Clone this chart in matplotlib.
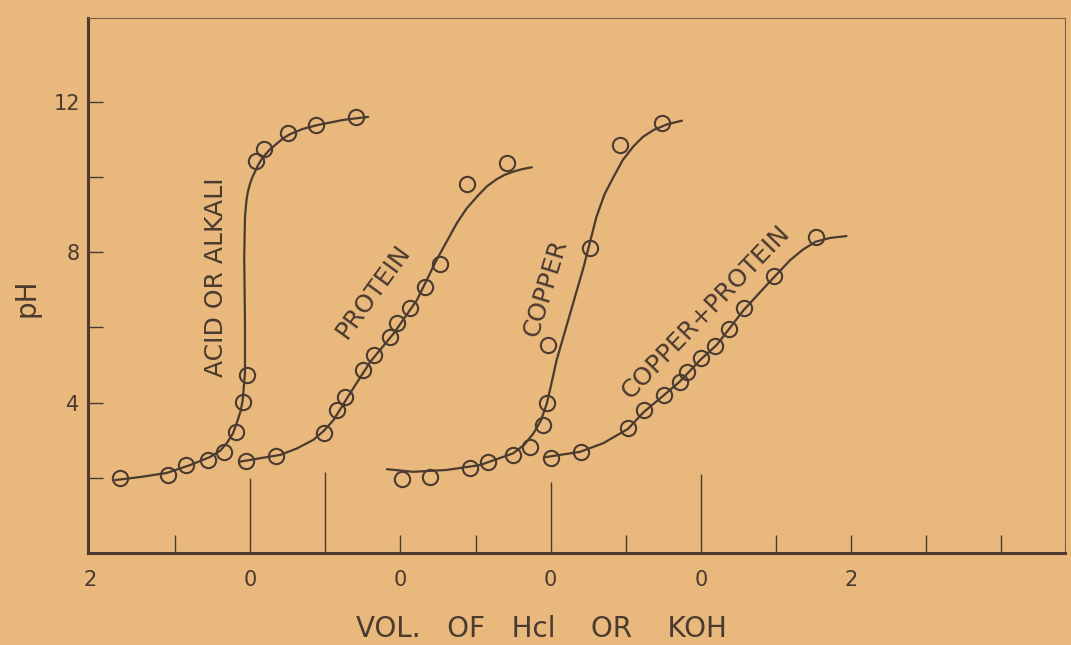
import matplotlib
matplotlib.use("Agg")
import matplotlib.pyplot as plt

# colours of the scanned sheet
paper = "#E8B87C"
ink = "#4A3A2F"

# x runs along one strip; each curve has its own zero mark
# acid / alkali (blank titration)
acid_x = [0.27, 0.90, 1.15, 1.44, 1.65, 1.81, 1.91, 1.96, 2.08, 2.18, 2.50, 2.88, 3.41]
acid_y = [1.99, 2.07, 2.34, 2.47, 2.69, 3.21, 4.01, 4.73, 10.43, 10.74, 11.18, 11.38, 11.60]
acid_fit_x = [0.20, 0.53, 0.89, 1.20, 1.46, 1.60, 1.69, 1.77, 1.82, 1.87, 1.90, 1.93, 1.93,
              1.92, 1.93, 1.95, 1.97, 2.00, 2.03, 2.11, 2.17, 2.26, 2.36, 2.44, 2.53,
              2.70, 2.89, 3.24, 3.57]
acid_fit_y = [1.94, 2.02, 2.13, 2.34, 2.55, 2.72, 2.93, 3.18, 3.46, 3.76, 4.07, 4.79, 6.12,
              7.87, 8.94, 9.39, 9.62, 9.84, 10.00, 10.34, 10.53, 10.73, 10.90, 11.03, 11.14,
              11.28, 11.38, 11.52, 11.60]

# protein
prot_x = [1.95, 2.34, 2.98, 3.16, 3.26, 3.50, 3.65, 3.86, 3.96, 4.13, 4.33, 4.53, 4.89, 5.42]
prot_y = [2.45, 2.58, 3.18, 3.80, 4.16, 4.87, 5.27, 5.75, 6.12, 6.51, 7.08, 7.69, 9.81, 10.38]
prot_fit_x = [1.86, 2.40, 2.62, 2.84, 2.98, 3.11, 3.33, 3.60, 3.91, 4.22, 4.48, 4.75, 4.88,
              5.02, 5.15, 5.28, 5.39, 5.50, 5.62, 5.75]
prot_fit_y = [2.43, 2.61, 2.78, 3.01, 3.25, 3.54, 4.25, 5.09, 5.84, 6.73, 7.79, 8.77, 9.16,
              9.48, 9.75, 9.94, 10.06, 10.14, 10.21, 10.26]

# copper
cu_x = [4.02, 4.39, 4.92, 5.16, 5.50, 5.72, 5.90, 5.95, 5.97, 6.52, 6.92, 7.48]
cu_y = [1.97, 2.03, 2.25, 2.43, 2.62, 2.83, 3.40, 4.00, 5.53, 8.12, 10.85, 11.43]
cu_fit_x = [3.82, 4.17, 4.62, 5.06, 5.50, 5.65, 5.77, 5.87, 5.95, 6.01, 6.08, 6.26, 6.44,
            6.61, 6.72, 6.84, 6.96, 7.10, 7.23, 7.37, 7.55, 7.75]
cu_fit_y = [2.23, 2.16, 2.21, 2.34, 2.65, 2.88, 3.18, 3.52, 3.98, 4.50, 5.13, 6.37, 7.61,
            8.94, 9.55, 10.01, 10.45, 10.81, 11.07, 11.25, 11.40, 11.50]

# copper + protein
cp_x = [6.00, 6.40, 7.03, 7.24, 7.51, 7.72, 7.82, 8.00, 8.19, 8.38, 8.57, 8.97, 9.53]
cp_y = [2.52, 2.68, 3.32, 3.80, 4.20, 4.56, 4.82, 5.18, 5.51, 5.95, 6.51, 7.37, 8.41]
cp_fit_x = [5.93, 6.39, 6.70, 7.03, 7.24, 7.51, 7.72, 8.00, 8.21, 8.57, 8.92, 9.19, 9.36,
            9.53, 9.72, 9.94]
cp_fit_y = [2.55, 2.69, 2.92, 3.30, 3.75, 4.20, 4.56, 5.15, 5.53, 6.46, 7.22, 7.79, 8.07,
            8.28, 8.38, 8.43]

# curve names, where they sit and their slant
names = ["ACID OR ALKALI", "PROTEIN", "COPPER", "COPPER+PROTEIN"]
name_x = [1.55, 3.64, 5.93, 8.07]
name_y = [7.34, 6.95, 7.05, 6.42]
name_rot = [90, 54, 73, 46]

# axis marks
x_label_pos = [-0.13, 2, 4, 6, 8, 10]
x_label_txt = ["2", "0", "0", "0", "0", "2"]
x_short_ticks = [1, 4, 5, 7, 9, 10, 11, 12]
x_zero_marks = [2, 3, 6, 8]
x_zero_heights = [2.0, 2.15, 1.9, 2.1]
y_major = [4, 8, 12]
y_minor = [2, 6, 10]

fig = plt.figure(figsize=(10.71, 6.45), dpi=100, facecolor=paper)
ax = fig.add_axes([0.0822, 0.1426, 0.9122, 0.8295], facecolor=paper)

series = [(acid_x, acid_y, acid_fit_x, acid_fit_y),
          (prot_x, prot_y, prot_fit_x, prot_fit_y),
          (cu_x, cu_y, cu_fit_x, cu_fit_y),
          (cp_x, cp_y, cp_fit_x, cp_fit_y)]
for px, py, fx, fy in series:
    ax.plot(fx, fy, color=ink, lw=1.6, solid_joinstyle="round", solid_capstyle="round", zorder=2)
    ax.plot(px, py, ls="none", marker="o", ms=11, mfc="none", mec=ink, mew=1.5, zorder=3)

for n, tx, ty, r in zip(names, name_x, name_y, name_rot):
    ax.text(tx, ty, n, rotation=r, rotation_mode="anchor", ha="center", va="center",
            fontsize=18, color=ink)

# long zero marks standing on the axis
ax.vlines(x_zero_marks, 0, x_zero_heights, color=ink, lw=1.0)

ax.set_xlim(-0.16, 12.85)
ax.set_ylim(0, 14.23)

ax.xaxis.remove_overlapping_locs = False
ax.set_xticks(x_label_pos, x_label_txt)
ax.set_xticks(x_short_ticks, minor=True)
ax.tick_params(axis="x", which="major", length=0, pad=12, labelsize=15, labelcolor=ink)
ax.tick_params(axis="x", which="minor", direction="in", length=13, width=1.0, color=ink)

ax.set_yticks(y_major, [str(v) for v in y_major])
ax.set_yticks(y_minor, minor=True)
ax.tick_params(axis="y", which="both", direction="in", length=11, width=1.0, color=ink,
               pad=6, labelsize=15, labelcolor=ink)

for side in ["left", "bottom"]:
    ax.spines[side].set_linewidth(2.2)
    ax.spines[side].set_color(ink)
for side in ["top", "right"]:
    ax.spines[side].set_linewidth(0.8)
    ax.spines[side].set_color("#7A6048")

ax.set_xlabel("VOL.   OF   Hcl    OR    KOH", fontsize=20, color=ink)
ax.xaxis.set_label_coords(0.464, -0.115)
ax.set_ylabel("pH", fontsize=20, color=ink)
ax.yaxis.set_label_coords(-0.049, 0.477)

fig.savefig("out.png", dpi=100, facecolor=paper)
